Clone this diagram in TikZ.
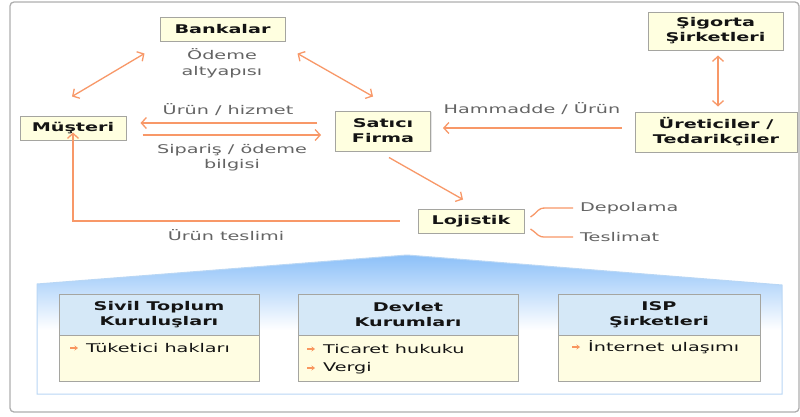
\documentclass[tikz,border=0pt]{standalone}
\usepackage{fontspec}
\setmainfont[FakeStretch=1.6]{DejaVu Sans}
\usetikzlibrary{arrows.meta,shadows,calc}

\definecolor{flow}{RGB}{248,152,104}
\definecolor{boxfill}{RGB}{255,255,224}
\definecolor{boxedge}{RGB}{165,165,160}
\definecolor{headfill}{RGB}{213,232,247}
\definecolor{bodyfill}{RGB}{255,253,226}
\definecolor{labelgray}{RGB}{100,100,100}
\definecolor{inktext}{RGB}{20,20,20}
\definecolor{panelblue}{RGB}{140,192,248}
\definecolor{paneledge}{RGB}{185,215,245}
\definecolor{frameedge}{RGB}{175,175,175}

\tikzset{
  actor/.style={draw=boxedge, fill=boxfill, line width=1pt, inner sep=2pt,
    font=\fontsize{12}{15}\selectfont\bfseries, text=inktext, align=center,
    drop shadow={shadow xshift=1.2pt, shadow yshift=-1.2pt, fill=black!20}},
  note/.style={font=\fontsize{12}{16}\selectfont, text=labelgray, align=center, inner sep=0pt},
  flowline/.style={draw=flow, line width=1.3pt},
  oneway/.style={flowline, -{Straight Barb[length=5pt,width=11pt,line width=1.3pt]}},
  twoway/.style={flowline, {Straight Barb[length=5pt,width=11pt,line width=1.3pt]}-{Straight Barb[length=5pt,width=11pt,line width=1.3pt]}},
  headbox/.style={draw=boxedge, fill=headfill, line width=1pt,
    minimum height=41pt, inner sep=0pt, font=\fontsize{12}{15}\selectfont\bfseries,
    text=inktext, align=center},
  bodybox/.style={draw=boxedge, fill=bodyfill, line width=1pt,
    minimum height=46pt, inner sep=0pt,
    drop shadow={shadow xshift=1.2pt, shadow yshift=-1.2pt, fill=black!20}},
  item/.style={font=\fontsize{12}{15}\selectfont, text=inktext, inner sep=0pt, anchor=west},
  bullet/.style={draw=flow!90!orange, line width=1.2pt, -{Stealth[length=3.5pt,width=5pt]}}
}

\begin{document}
\begin{tikzpicture}[x=1pt, y=-1pt]
\useasboundingbox (0,0) rectangle (800,416);

% outer frame
\draw[frameedge, line width=1.3pt, rounded corners=4pt, fill=white] (10,2) rectangle (799,412);

% main participants
\node[actor, minimum width=125pt, minimum height=24pt] (bank) at (222.5,29) {Bankalar};
\node[actor, minimum width=106pt, minimum height=24pt] (must) at (73,128) {Müşteri};
\node[actor, minimum width=95pt, minimum height=40pt] (firma) at (383,131) {Satıcı\\Firma};
\node[actor, minimum width=135pt, minimum height=38pt] (sig) at (715.5,31) {Şigorta\\Şirketleri};
\node[actor, minimum width=162pt, minimum height=40pt] (ured) at (716,132) {Üreticiler /\\Tedarikçiler};
\node[actor, minimum width=106pt, minimum height=24pt] (loj) at (471,221) {Lojistik};

% labels
\node[note] (odeme) at (222,63) {Ödeme\\altyapısı};
\node[note] (urun) at (228,110) {Ürün / hizmet};
\node[note, font=\fontsize{12}{15}\selectfont] (siparis) at (232,158) {Sipariş / ödeme\\bilgisi};
\node[note] (hamm) at (532,109) {Hammadde / Ürün};
\node[note] (teslimi) at (226,235) {Ürün teslimi};
\node[note, anchor=west] (dep) at (580,208) {Depolama};
\node[note, anchor=west] (tes) at (580,237) {Teslimat};

% flows between participants
\draw[twoway] ([shift={(-15,12)}]bank.south west) -- ([shift={(-1,-19)}]must.north);
\draw[twoway] ([shift={(12,12)}]bank.south east) -- ([shift={(-10,-14)}]firma.north);
\draw[oneway] ([shift={(-18,-8)}]firma.west) -- ([shift={(14,-5)}]must.east);
\draw[oneway] ([shift={(16,7)}]must.east) -- ([shift={(-14,4)}]firma.west);
\draw[oneway] ([shift={(-13,-4)}]ured.west) -- ([shift={(12,-3)}]firma.east);
\draw[twoway] ([shift={(2.5,5)}]sig.south) -- ([shift={(2,-5)}]ured.north);
\draw[oneway] ([shift={(6,6)}]firma.south) -- ([shift={(-8,-9)}]loj.north);
\draw[oneway] ([xshift=-18]loj.west) -| ([yshift=8]must.south);

% logistics branches
\draw[flowline] ([shift={(6,-4)}]loj.east) .. controls +(9,-6) and +(-9,0) .. ([xshift=-34]dep.west) -- ([xshift=-7]dep.west);
\draw[flowline] ([shift={(6,8)}]loj.east) .. controls +(9,6) and +(-9,0) .. ([xshift=-34]tes.west) -- ([xshift=-7]tes.west);

% supporting environment panel
\begin{scope}
  \clip (37,284) -- (407,255) -- (782,285) -- (782,394) -- (37,394) -- cycle;
  \fill[white] (37,250) rectangle (782,394);
  \shade[top color=panelblue, bottom color=white] (37,255) rectangle (782,330);
\end{scope}
\draw[paneledge, line width=1pt] (37,284) -- (407,255) -- (782,285) -- (782,394) -- (37,394) -- cycle;

% environment boxes: body first, header on top
\node[bodybox, minimum width=200pt] (sivilb) at (159,358) {};
\node[bodybox, minimum width=220pt] (devletb) at (408,358) {};
\node[bodybox, minimum width=202pt] (ispb) at (659,358) {};
\node[headbox, minimum width=200pt] (sivilh) at (159,314.5) {Sivil Toplum\\Kuruluşları};
\node[headbox, minimum width=220pt] (devleth) at (408,314.5) {Devlet\\Kurumları};
\node[headbox, minimum width=202pt] (isph) at (659,314.5) {ISP\\Şirketleri};

\node[item] (t1) at (86,348) {Tüketici hakları};
\node[item] (t2) at (323,349) {Ticaret hukuku};
\node[item] (t3) at (323,368) {Vergi};
\node[item] (t4) at (588,347) {İnternet ulaşımı};
\foreach \t in {t1,t2,t3,t4}{
  \draw[bullet] ([xshift=-16]\t.west) -- ([xshift=-8]\t.west);
}
\end{tikzpicture}
\end{document}
